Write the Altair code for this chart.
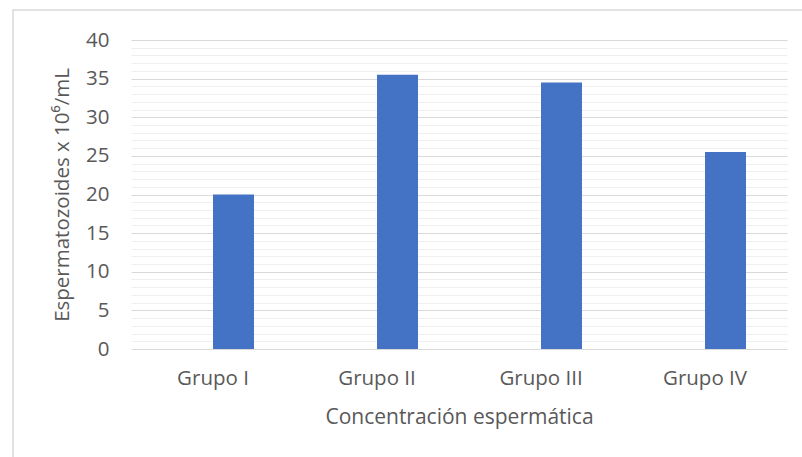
import altair as alt
import pandas as pd

# Concentración espermática por grupo (espermatozoides x 10^6/mL)
grupos = ["Grupo I", "Grupo II", "Grupo III", "Grupo IV"]
concentracion = [20.0, 35.5, 34.5, 25.5]
# Two-slot cluster: the first slot of each group is empty
series = ["Serie 1", "Serie 2"]

df = pd.DataFrame({
    "grupo": grupos,
    "valor": concentracion,
    "serie": ["Serie 2"] * len(grupos),
})

FONT = "Open Sans"
TXT = "#595959"
MAJOR = "#d9d9d9"
MINOR = "#efefef"

bars = alt.Chart(df).mark_bar(color="#4472C4").encode(
    x=alt.X(
        "grupo:N",
        sort=grupos,
        scale=alt.Scale(paddingInner=0.5, paddingOuter=0.25),
        axis=alt.Axis(
            title="Concentración espermática",
            labelAngle=0,
            ticks=False,
            domain=False,
            labelPadding=19,
            titlePadding=18,
            labelFontSize=20.5,
            titleFontSize=21,
        ),
    ),
    xOffset=alt.XOffset("serie:N", scale=alt.Scale(domain=series, paddingInner=0, paddingOuter=0)),
    y=alt.Y(
        "valor:Q",
        scale=alt.Scale(domain=[0, 40], nice=False),
        axis=alt.Axis(
            title="Espermatozoides x 10⁶/mL",
            values=list(range(0, 41)),
            labelExpr="datum.value % 5 === 0 ? datum.label : ''",
            gridColor={"condition": {"test": "datum.value % 5 === 0", "value": MAJOR}, "value": MINOR},
            gridWidth=1.2,
            ticks=False,
            domain=False,
            labelPadding=22,
            titlePadding=13,
            labelFontSize=20.5,
            titleFontSize=20.5,
        ),
    ),
)

# Light frame around the whole figure (open at right and bottom edges)
frame = alt.Chart(pd.DataFrame({"k": [0]})).mark_rect(
    fill=None, stroke="#d9d9d9", strokeWidth=1.5
).encode(
    x=alt.value(-118), x2=alt.value(720), y=alt.value(-30), y2=alt.value(460)
)

chart = alt.layer(frame, bars).properties(
    width=656,
    height=309,
    background="white",
    autosize=alt.AutoSizeParams(type="none"),
    padding={"left": 131, "top": 40, "right": 15, "bottom": 108},
).configure_view(stroke=None).configure_axis(
    labelFont=FONT,
    titleFont=FONT,
    labelColor=TXT,
    titleColor=TXT,
    titleFontWeight="normal",
)

chart.save("out.html", embed_options={"renderer": "svg", "actions": False})
